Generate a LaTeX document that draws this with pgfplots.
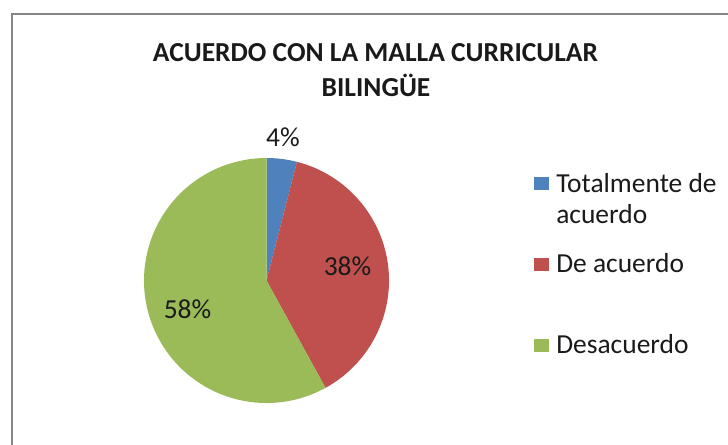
\documentclass[border=0pt]{standalone}
\usepackage{pgfplots}
\pgfplotsset{compat=1.18}
\usepackage{pgfplotstable}
\usepackage{fontspec}
\setmainfont{Carlito}
\definecolor{cblue}{HTML}{4F81BD}
\definecolor{cred}{HTML}{C0504D}
\definecolor{cgreen}{HTML}{9BBB59}
\definecolor{cborder}{HTML}{868686}
\definecolor{ctext}{HTML}{1A1A1A}
\pgfplotstableread{
idx value
0 4
1 38
2 58
}\piedata
\begin{document}
\begin{tikzpicture}
\pgfplotstablegetelem{0}{value}\of\piedata \edef\vA{\pgfplotsretval}
\pgfplotstablegetelem{1}{value}\of\piedata \edef\vB{\pgfplotsretval}
\pgfplotstablegetelem{2}{value}\of\piedata \edef\vC{\pgfplotsretval}
\pgfmathsetmacro{\aA}{90}
\pgfmathsetmacro{\aB}{90-3.6*\vA}
\pgfmathsetmacro{\aC}{\aB-3.6*\vB}
\pgfmathsetmacro{\aD}{\aC-3.6*\vC}
\def\R{91.875pt}
\def\fs{\fontsize{20.6}{24}\selectfont}
\begin{axis}[at={(0,0)},anchor=north west,width=546pt,height=333.75pt,
  scale only axis,hide axis,xmin=0,xmax=728,ymin=0,ymax=445,y dir=reverse,clip=false]
\draw[cborder,line width=1.5pt] (axis cs:12,14) rectangle (axis cs:780,480);
\fill[cblue] (axis cs:266.5,280.5) -- ++(\aA:\R) arc[start angle=\aA,end angle=\aB,radius=\R] -- cycle;
\fill[cred] (axis cs:266.5,280.5) -- ++(\aB:\R) arc[start angle=\aB,end angle=\aC,radius=\R] -- cycle;
\fill[cgreen] (axis cs:266.5,280.5) -- ++(\aC:\R) arc[start angle=\aC,end angle=\aD,radius=\R] -- cycle;
\node[ctext,font=\fs\bfseries,anchor=base,inner sep=0pt] at (axis cs:375.5,61.5) {ACUERDO CON LA MALLA CURRICULAR};
\node[ctext,font=\fs\bfseries,anchor=base,inner sep=0pt] at (axis cs:376,96.5) {BILINGÜE};
\node[ctext,font=\fs,anchor=base,inner sep=0pt] at (axis cs:283,146) {\vA\%};
\node[ctext,font=\fs,anchor=base,inner sep=0pt] at (axis cs:347.5,275) {\vB\%};
\node[ctext,font=\fs,anchor=base,inner sep=0pt] at (axis cs:187.5,318) {\vC\%};
\fill[cblue] (axis cs:534,177) rectangle (axis cs:549,190);
\fill[cred] (axis cs:534,257.5) rectangle (axis cs:549,270.5);
\fill[cgreen] (axis cs:534,339) rectangle (axis cs:549,352);
\node[ctext,font=\fs,anchor=base west,inner sep=0pt] at (axis cs:556,192) {Totalmente de};
\node[ctext,font=\fs,anchor=base west,inner sep=0pt] at (axis cs:556,223) {acuerdo};
\node[ctext,font=\fs,anchor=base west,inner sep=0pt] at (axis cs:556,272) {De acuerdo};
\node[ctext,font=\fs,anchor=base west,inner sep=0pt] at (axis cs:556,353) {Desacuerdo};
\end{axis}
\pgfresetboundingbox
\useasboundingbox (0,0) rectangle (546pt,-333.75pt);
\end{tikzpicture}
\end{document}
